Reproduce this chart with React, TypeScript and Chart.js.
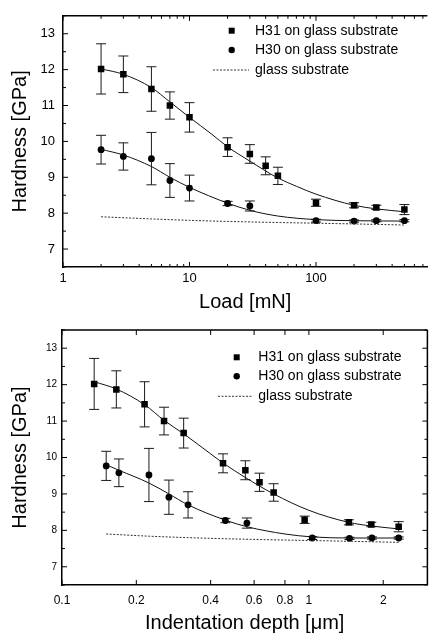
import { useEffect, useRef } from "react";
import Chart from "chart.js/auto";

// ---------- data ----------
const loads = [2, 3, 5, 7, 10, 20, 30, 40, 50, 100, 200, 300, 500];
const h31Hardness = [12.02, 11.87, 11.46, 11.0, 10.67, 9.84, 9.65, 9.32, 9.04, 8.29, 8.22, 8.16, 8.1];
const h31Err = [0.7, 0.51, 0.62, 0.38, 0.41, 0.26, 0.26, 0.25, 0.24, 0.1, 0.07, 0.06, 0.14];
const h31Depth = [0.135, 0.166, 0.216, 0.259, 0.311, 0.449, 0.553, 0.631, 0.72, 0.961, 1.452, 1.79, 2.31];

const h30Loads = [2, 3, 5, 7, 10, 20, 30, 100, 200, 300, 500];
const h30Hardness = [9.77, 9.58, 9.52, 8.91, 8.7, 8.27, 8.2, 7.79, 7.78, 7.79, 7.79];
const h30Err = [0.4, 0.38, 0.73, 0.47, 0.36, 0.06, 0.14, 0.04, 0.03, 0.03, 0.03];
const h30Depth = [0.151, 0.17, 0.225, 0.271, 0.324, 0.459, 0.561, 1.032, 1.46, 1.8, 2.31];

// fitted curves
const h31FitLoad = [2, 3, 5, 7, 10, 15, 20, 30, 50, 70, 100, 200, 300, 500];
const h31FitLoadH = [12.02, 11.87, 11.5, 11.1, 10.67, 10.2, 9.85, 9.45, 8.98, 8.75, 8.53, 8.22, 8.12, 8.04];
const h30FitLoad = [2, 3, 5, 7, 10, 20, 30, 50, 100, 200, 500];
const h30FitLoadH = [9.78, 9.62, 9.3, 9.0, 8.72, 8.28, 8.08, 7.92, 7.82, 7.79, 7.78];

const h31FitDepth = [0.135, 0.166, 0.216, 0.259, 0.311, 0.4, 0.449, 0.553, 0.72, 1.0, 1.45, 1.79, 2.31];
const h31FitDepthH = [12.08, 11.88, 11.45, 11.02, 10.65, 10.1, 9.85, 9.45, 9.0, 8.55, 8.22, 8.12, 8.04];
const h30FitDepth = [0.151, 0.17, 0.225, 0.271, 0.324, 0.459, 0.561, 0.8, 1.032, 1.46, 2.31];
const h30FitDepthH = [9.8, 9.65, 9.3, 9.0, 8.7, 8.28, 8.1, 7.9, 7.82, 7.79, 7.79];

const glassLoad = [2, 5, 10, 20, 50, 100, 200, 500];
const glassDepth = [0.151, 0.225, 0.324, 0.459, 0.72, 1.03, 1.46, 2.31];
const glassH = [7.9, 7.84, 7.8, 7.77, 7.74, 7.72, 7.7, 7.67];

const yTicks = [7, 8, 9, 10, 11, 12, 13];
const yMinorTicks = [6.5, 7.5, 8.5, 9.5, 10.5, 11.5, 12.5, 13.5];
const loadTicks = [1, 10, 100];
const loadMinorTicks = [2, 3, 4, 5, 6, 7, 8, 9, 20, 30, 40, 50, 60, 70, 80, 90, 200, 300, 400, 500, 600, 700];
const depthTicks = [0.1, 0.2, 0.4, 0.6, 0.8, 1, 2];
const depthMinorTicks: number[] = [];

const legendLabels = ["H31 on glass substrate", "H30 on glass substrate", "glass substrate"];

const FONT = "'Liberation Sans', Arial, Helvetica, sans-serif";

type Cfg = {
  xTitle: string;
  xMin: number;
  xMax: number;
  xTicks: number[];
  xMinor: number[];
  h31X: number[];
  h30X: number[];
  fit31X: number[];
  fit31Y: number[];
  fit30X: number[];
  fit30Y: number[];
  glassX: number[];
  padTop: number;
  padRight: number;
  yWidth: number;
  xHeight: number;
  yTickFont: number;
  xTickFont: number;
  yTickPad: number;
  xTickPad: number;
  xTitlePad: number;
  legend: { sx: number; tx: number; rows: number[]; l0: number; l1: number };
  rightBorder: boolean;
};

const toPts = (xs: number[], ys: number[]) => xs.map((x, i) => ({ x, y: ys[i] }));

const decoPlugin = {
  id: "deco",
  beforeDatasetsDraw(chart: any, _a: any, opts: any) {
    const ctx = chart.ctx;
    const xs = chart.scales.x;
    const ys = chart.scales.y;
    ctx.save();
    ctx.strokeStyle = "#1a1a1a";
    ctx.lineWidth = 1;
    for (const set of opts.errors || []) {
      set.x.forEach((xv: number, i: number) => {
        const px = xs.getPixelForValue(xv);
        const top = ys.getPixelForValue(set.y[i] + set.e[i]);
        const bot = ys.getPixelForValue(set.y[i] - set.e[i]);
        ctx.beginPath();
        ctx.moveTo(px, top);
        ctx.lineTo(px, bot);
        ctx.moveTo(px - 5, top);
        ctx.lineTo(px + 5, top);
        ctx.moveTo(px - 5, bot);
        ctx.lineTo(px + 5, bot);
        ctx.stroke();
      });
    }
    ctx.restore();
  },
  afterDraw(chart: any, _a: any, opts: any) {
    const ctx = chart.ctx;
    const { left, right, top, bottom } = chart.chartArea;
    const xs = chart.scales.x;
    const ys = chart.scales.y;
    ctx.save();
    ctx.strokeStyle = "#000";
    ctx.lineWidth = 1.5;
    ctx.beginPath();
    ctx.moveTo(left, top);
    ctx.lineTo(right, top);
    if (opts.rightBorder) {
      ctx.moveTo(right, top);
      ctx.lineTo(right, bottom);
    }
    ctx.stroke();
    ctx.lineWidth = 1;
    const tick = (vals: number[], len: number) => {
      for (const v of vals) {
        const px = xs.getPixelForValue(v);
        if (px < left - 0.5 || px > right + 0.5) continue;
        ctx.beginPath();
        ctx.moveTo(px, bottom);
        ctx.lineTo(px, bottom - len);
        ctx.moveTo(px, top);
        ctx.lineTo(px, top + len);
        ctx.stroke();
      }
    };
    tick(opts.xTicks, 5);
    tick(opts.xMinor, 3);
    const ytick = (vals: number[], len: number) => {
      for (const v of vals) {
        const py = ys.getPixelForValue(v);
        ctx.beginPath();
        ctx.moveTo(left, py);
        ctx.lineTo(left + len, py);
        if (opts.rightBorder) {
          ctx.moveTo(right, py);
          ctx.lineTo(right - len, py);
        }
        ctx.stroke();
      }
    };
    ytick(yTicks, 5);
    ytick(yMinorTicks, 3);

    // legend
    const lg = opts.legend;
    ctx.fillStyle = "#000";
    ctx.fillRect(lg.sx - 3, lg.rows[0] - 3, 6, 6);
    ctx.beginPath();
    ctx.arc(lg.sx, lg.rows[1], 3.2, 0, Math.PI * 2);
    ctx.fill();
    ctx.strokeStyle = "#333";
    ctx.setLineDash([2, 1.5]);
    ctx.beginPath();
    ctx.moveTo(lg.l0, lg.rows[2]);
    ctx.lineTo(lg.l1, lg.rows[2]);
    ctx.stroke();
    ctx.setLineDash([]);
    ctx.font = `14px ${FONT}`;
    ctx.textBaseline = "middle";
    ctx.textAlign = "left";
    legendLabels.forEach((t, i) => ctx.fillText(t, lg.tx, lg.rows[i]));
    ctx.restore();
  },
};

function buildConfig(c: Cfg): any {
  return {
    type: "scatter",
    data: {
      datasets: [
        {
          type: "line",
          data: toPts(c.fit31X, c.fit31Y),
          borderColor: "#111",
          borderWidth: 1,
          pointRadius: 0,
          cubicInterpolationMode: "monotone",
          fill: false,
        },
        {
          type: "line",
          data: toPts(c.fit30X, c.fit30Y),
          borderColor: "#111",
          borderWidth: 1,
          pointRadius: 0,
          cubicInterpolationMode: "monotone",
          fill: false,
        },
        {
          type: "line",
          data: toPts(c.glassX, glassH),
          borderColor: "#333",
          borderWidth: 1,
          borderDash: [2, 1.5],
          pointRadius: 0,
          cubicInterpolationMode: "monotone",
          fill: false,
        },
        {
          data: toPts(c.h31X, h31Hardness),
          pointStyle: "rect",
          pointRadius: 4.6,
          backgroundColor: "#000",
          borderColor: "#000",
          borderWidth: 0,
        },
        {
          data: toPts(c.h30X, h30Hardness),
          pointStyle: "circle",
          pointRadius: 3.4,
          backgroundColor: "#000",
          borderColor: "#000",
          borderWidth: 0,
        },
      ],
    },
    options: {
      responsive: false,
      animation: false,
      events: [],
      layout: { padding: { top: c.padTop, right: c.padRight, left: 0, bottom: 0 } },
      plugins: {
        legend: { display: false },
        tooltip: { enabled: false },
        deco: {
          errors: [
            { x: c.h31X, y: h31Hardness, e: h31Err },
            { x: c.h30X, y: h30Hardness, e: h30Err },
          ],
          xTicks: c.xTicks,
          xMinor: c.xMinor,
          legend: c.legend,
          rightBorder: c.rightBorder,
        },
      },
      scales: {
        x: {
          type: "logarithmic",
          min: c.xMin,
          max: c.xMax,
          afterBuildTicks: (s: any) => {
            s.ticks = c.xTicks.map((v) => ({ value: v }));
          },
          afterFit: (s: any) => {
            s.height = c.xHeight;
          },
          grid: { display: false, drawTicks: false },
          border: { display: true, color: "#000", width: 1.5 },
          ticks: {
            autoSkip: false,
            maxRotation: 0,
            padding: c.xTickPad,
            color: "#000",
            font: { family: FONT, size: c.xTickFont },
            callback: (v: any) => String(Number(v)),
          },
          title: {
            display: true,
            text: c.xTitle,
            color: "#000",
            font: { family: FONT, size: 20 },
            padding: { top: 0, bottom: c.xTitlePad },
          },
        },
        y: {
          type: "linear",
          min: 6.5,
          max: 13.5,
          afterBuildTicks: (s: any) => {
            s.ticks = yTicks.map((v) => ({ value: v }));
          },
          afterFit: (s: any) => {
            s.width = c.yWidth;
          },
          grid: { display: false, drawTicks: false },
          border: { display: true, color: "#000", width: 1.5 },
          ticks: {
            padding: c.yTickPad,
            color: "#000",
            font: { family: FONT, size: c.yTickFont },
          },
          title: {
            display: true,
            text: "Hardness [GPa]",
            color: "#000",
            font: { family: FONT, size: 20 },
            padding: { top: 8, bottom: 0 },
          },
        },
      },
    },
    plugins: [decoPlugin],
  };
}

const topCfg: Cfg = {
  xTitle: "Load [mN]",
  xMin: 1,
  xMax: 760,
  xTicks: loadTicks,
  xMinor: loadMinorTicks,
  h31X: loads,
  h30X: h30Loads,
  fit31X: h31FitLoad,
  fit31Y: h31FitLoadH,
  fit30X: h30FitLoad,
  fit30Y: h30FitLoadH,
  glassX: glassLoad,
  padTop: 7,
  padRight: 0,
  yWidth: 63,
  xHeight: 51,
  yTickFont: 13,
  xTickFont: 13,
  yTickPad: 8,
  xTickPad: 4,
  xTitlePad: 4,
  legend: { sx: 231.7, tx: 255, rows: [30.7, 50, 70], l0: 213, l1: 249 },
  rightBorder: false,
};

const bottomCfg: Cfg = {
  xTitle: "Indentation depth [\u03bcm]",
  xMin: 0.1,
  xMax: 3.02,
  xTicks: depthTicks,
  xMinor: depthMinorTicks,
  h31X: h31Depth,
  h30X: h30Depth,
  fit31X: h31FitDepth,
  fit31Y: h31FitDepthH,
  fit30X: h30FitDepth,
  fit30Y: h30FitDepthH,
  glassX: glassDepth,
  padTop: 12,
  padRight: 4,
  yWidth: 62,
  xHeight: 52,
  yTickFont: 10,
  xTickFont: 12,
  yTickPad: 5,
  xTickPad: 8,
  xTitlePad: 2,
  legend: { sx: 236.7, tx: 258.3, rows: [39.3, 58.3, 78.3], l0: 218, l1: 253 },
  rightBorder: true,
};

export default function App() {
  const topRef = useRef<HTMLCanvasElement | null>(null);
  const botRef = useRef<HTMLCanvasElement | null>(null);

  useEffect(() => {
    document.body.style.margin = "0";
    const c1 = new Chart(topRef.current as HTMLCanvasElement, buildConfig(topCfg));
    const c2 = new Chart(botRef.current as HTMLCanvasElement, buildConfig(bottomCfg));
    return () => {
      c1.destroy();
      c2.destroy();
    };
  }, []);

  return (
    <div style={{ position: "relative", width: 432, height: 637, background: "#fff" }}>
      <canvas
        ref={topRef}
        width={432}
        height={318}
        style={{ position: "absolute", left: 0, top: 0, width: 432, height: 318 }}
      />
      <canvas
        ref={botRef}
        width={432}
        height={319}
        style={{ position: "absolute", left: 0, top: 318, width: 432, height: 319 }}
      />
    </div>
  );
}
